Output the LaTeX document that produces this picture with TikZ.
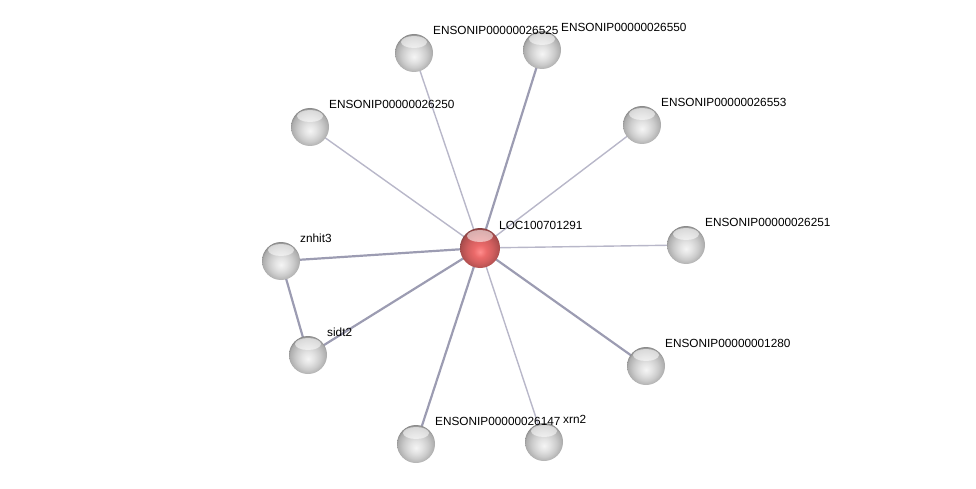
\documentclass[tikz,border=0pt]{standalone}
\usepackage{fontspec}
\setmainfont{Liberation Sans}
\usetikzlibrary{positioning,calc}
\definecolor{edgelight}{HTML}{B8B7C9}
\definecolor{edgedark}{HTML}{9C9CB2}
\pgfdeclareradialshading{greyball}{\pgfpoint{0bp}{-5bp}}{%
  color(0bp)=(white!96!black); color(8bp)=(white!89!black);
  color(16bp)=(white!80!black); color(24bp)=(white!68!black);
  color(28bp)=(white!48!black); color(40bp)=(white!40!black)}
\pgfdeclareradialshading{redball}{\pgfpoint{0bp}{-5bp}}{%
  color(0bp)=(red!45!white); color(8bp)=(red!55!white!92!black);
  color(16bp)=(red!55!white!82!black); color(24bp)=(red!55!white!68!black);
  color(28bp)=(red!50!white!45!black); color(40bp)=(red!50!white!38!black)}

\begin{document}
\begin{tikzpicture}[x=1pt, y=-1pt,
  gloss/.style={path picture={\fill[white, opacity=0.55]
      ($(path picture bounding box.north)+(0,8)$) ellipse (13pt and 6pt);}},
  prot/.style={circle, minimum size=38pt, inner sep=0pt, shading=greyball, gloss},
  query/.style={circle, minimum size=40pt, inner sep=0pt, shading=redball, gloss},
  lbl/.style={anchor=west, inner sep=0pt, font=\fontsize{11.8}{13}\selectfont},
  weak/.style={edgelight, line width=1.4pt},
  strong/.style={edgedark, line width=2.2pt}
]
  \useasboundingbox (0,0) rectangle (976,489);

  % edges first, balls on top
  \coordinate (c) at (480,248);
  \coordinate (p1) at (414,53);
  \coordinate (p2) at (542,50);
  \coordinate (p3) at (310,127);
  \coordinate (p4) at (642,125);
  \coordinate (p5) at (686,245);
  \coordinate (p6) at (646,366);
  \coordinate (p7) at (544,442);
  \coordinate (p8) at (416,444);
  \coordinate (p9) at (308,355);
  \coordinate (p10) at (281,261);

  \draw[weak] (c) -- (p1);
  \draw[strong] (c) -- (p2);
  \draw[weak] (c) -- (p3);
  \draw[weak] (c) -- (p4);
  \draw[weak] (c) -- (p5);
  \draw[strong] (c) -- (p6);
  \draw[weak] (c) -- (p7);
  \draw[strong] (c) -- (p8);
  \draw[strong] (c) -- (p9);
  \draw[strong] (c) -- (p10);
  \draw[strong] (p9) -- (p10);

  \node[query] (loc) at (c) {};
  \node[prot] (n26525) at (p1) {};
  \node[prot] (n26550) at (p2) {};
  \node[prot] (n26250) at (p3) {};
  \node[prot] (n26553) at (p4) {};
  \node[prot] (n26251) at (p5) {};
  \node[prot] (n1280) at (p6) {};
  \node[prot] (xrn) at (p7) {};
  \node[prot] (n26147) at (p8) {};
  \node[prot] (sidt) at (p9) {};
  \node[prot] (znhit) at (p10) {};

  \node[lbl] (tloc) at ($(c)+(19,-23)$) {LOC100701291};
  \node[lbl] (t26525) at ($(p1)+(19,-23)$) {ENSONIP00000026525};
  \node[lbl] (t26550) at ($(p2)+(19,-23)$) {ENSONIP00000026550};
  \node[lbl] (t26250) at ($(p3)+(19,-23)$) {ENSONIP00000026250};
  \node[lbl] (t26553) at ($(p4)+(19,-23)$) {ENSONIP00000026553};
  \node[lbl] (t26251) at ($(p5)+(19,-23)$) {ENSONIP00000026251};
  \node[lbl] (t1280) at ($(p6)+(19,-23)$) {ENSONIP00000001280};
  \node[lbl] (t26147) at ($(p8)+(19,-23)$) {ENSONIP00000026147};
  \node[lbl] (txrn) at ($(p7)+(19,-23)$) {xrn2};
  \node[lbl] (tsidt) at ($(p9)+(19,-23)$) {sidt2};
  \node[lbl] (tznhit) at ($(p10)+(19,-23)$) {znhit3};
\end{tikzpicture}
\end{document}
